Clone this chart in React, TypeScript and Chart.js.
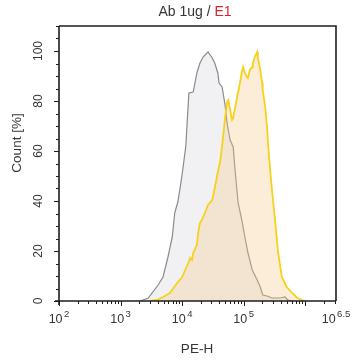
import React, { useEffect, useRef } from "react";
import { Chart, registerables } from "chart.js";

Chart.register(...registerables);

// Control (gray) histogram: x in log10(PE-H), y in Count [%]
const grayLog = [3.32,3.45,3.61,3.69,3.77,3.84,3.88,3.93,3.97,4.01,4.06,4.11,4.18,4.24,4.29,4.34,4.42,4.49,4.53,4.58,4.60,4.65,4.70,4.73,4.78,4.83,4.86,4.91,4.97,5.02,5.07,5.14,5.22,5.27,5.31,5.38,5.46,5.59,5.67,5.72,5.80];
const grayCount = [0,1.2,6.4,9.6,17.6,25.6,35.2,39.6,45.6,52.4,62,83.2,83.6,91.2,95.2,97.6,99.6,97.2,95.2,91.2,87.2,85.6,78,71.2,64.4,61.6,52.4,39.2,32.4,25.6,19.2,12.4,8.4,5.6,2.4,2,1.2,1.2,1.6,0.4,0];

// E1 (yellow) histogram
const e1Log = [3.48,3.59,3.69,3.80,3.92,4.00,4.05,4.10,4.13,4.16,4.18,4.24,4.26,4.29,4.32,4.37,4.42,4.49,4.53,4.58,4.62,4.66,4.70,4.73,4.75,4.78,4.81,4.83,4.89,4.94,4.97,4.99,5.02,5.05,5.07,5.10,5.14,5.15,5.18,5.22,5.23,5.27,5.30,5.31,5.35,5.38,5.40,5.43,5.46,5.51,5.56,5.62,5.70,5.79,5.87,5.95,6.00];
const e1Count = [0,0.4,1.6,3.2,7.2,9.6,12.4,15.2,17.2,16.4,19.2,22.4,27.2,31.2,32.4,35.2,38.4,40.4,45.2,51.6,56,64.4,73.6,79.6,80.4,76.4,72.4,73.2,81.2,87.2,91.6,93.6,91.2,89.6,89.2,92.4,93.6,95.2,97.6,99.6,97.2,92.4,87.2,84.4,77.6,69.6,61.6,52.4,44.4,32.4,19.2,9.6,5.6,3.2,1.2,0.4,0];

// Axis ticks
const xMajorTicks = [2, 3, 4, 5, 6];
const xLabelExps = ["2", "3", "4", "5", "6.5"];
const xLabelValues = [2, 3, 4, 5, 6.5];
const yMajorTicks = [0, 20, 40, 60, 80, 100];
const xMin = 2;
const xMax = 6.5;
const yMin = 0;
const yMax = 110;

const titleMain = "Ab 1ug / ";
const titleSample = "E1";
const xTitle = "PE-H";
const yTitle = "Count [%]";

const TEXT = "#363636";
const FONT = "'Liberation Sans', Arial, sans-serif";

const axesPlugin = {
  id: "flowAxes",
  afterDraw(chart: any) {
    const ctx = chart.ctx as CanvasRenderingContext2D;
    const { left, right, top, bottom } = chart.chartArea;
    const xs = chart.scales.x;
    const ys = chart.scales.y;
    ctx.save();
    // frame
    ctx.strokeStyle = "#1e1e1e";
    ctx.lineWidth = 1.6;
    ctx.beginPath();
    ctx.moveTo(left, top);
    ctx.lineTo(right, top);
    ctx.lineTo(right, bottom);
    ctx.stroke();
    ctx.beginPath();
    ctx.moveTo(left, top);
    ctx.lineTo(left, bottom + 4);
    ctx.moveTo(left - 4, bottom);
    ctx.lineTo(right, bottom);
    ctx.stroke();

    // x ticks
    ctx.lineWidth = 1;
    ctx.beginPath();
    for (const d of xMajorTicks) {
      const px = Math.round(xs.getPixelForValue(d)) + 0.5;
      ctx.moveTo(px, bottom);
      ctx.lineTo(px, bottom + 5);
      for (let k = 2; k <= 9; k++) {
        const v = d + Math.log10(k);
        if (v > xMax + 1e-9) break;
        const mx = Math.round(xs.getPixelForValue(v)) + 0.5;
        ctx.moveTo(mx, bottom);
        ctx.lineTo(mx, bottom + 3);
      }
    }
    ctx.stroke();

    // y ticks
    ctx.beginPath();
    for (let v = yMin; v <= yMax; v += 5) {
      const py = Math.round(ys.getPixelForValue(v)) + 0.5;
      const len = v % 20 === 0 ? 5 : 3;
      ctx.moveTo(left, py);
      ctx.lineTo(left - len, py);
    }
    ctx.stroke();

    // x tick labels 10^n
    ctx.fillStyle = TEXT;
    ctx.textBaseline = "alphabetic";
    ctx.textAlign = "left";
    xLabelValues.forEach((v, i) => {
      const px = xs.getPixelForValue(v);
      ctx.font = `12.5px ${FONT}`;
      const wBase = ctx.measureText("10").width;
      ctx.font = `9.5px ${FONT}`;
      const wExp = ctx.measureText(xLabelExps[i]).width;
      const total = wBase + 1.5 + wExp;
      let x0 = px - total / 2;
      if (x0 + total > 355) x0 = 355 - total;
      ctx.font = `12.5px ${FONT}`;
      ctx.fillText("10", x0, bottom + 22);
      ctx.font = `9.5px ${FONT}`;
      ctx.fillText(xLabelExps[i], x0 + wBase + 1.5, bottom + 16);
    });

    // y tick labels rotated
    ctx.font = `12px ${FONT}`;
    ctx.textAlign = "center";
    ctx.textBaseline = "middle";
    yMajorTicks.forEach((v) => {
      const py = ys.getPixelForValue(v);
      ctx.save();
      ctx.translate(left - 20.5, py);
      ctx.rotate(-Math.PI / 2);
      ctx.fillText(String(v), 0, 0);
      ctx.restore();
    });

    // axis titles
    ctx.font = `13.5px ${FONT}`;
    ctx.textAlign = "center";
    ctx.textBaseline = "middle";
    ctx.fillText(xTitle, 197, 349);
    ctx.save();
    ctx.translate(17, 143);
    ctx.rotate(-Math.PI / 2);
    ctx.fillText(yTitle, 0, 0);
    ctx.restore();

    // title two-colour
    ctx.font = `14px ${FONT}`;
    ctx.textAlign = "left";
    const w1 = ctx.measureText(titleMain).width;
    const w2 = ctx.measureText(titleSample).width;
    const tx = 195 - (w1 + w2) / 2;
    ctx.fillStyle = TEXT;
    ctx.fillText(titleMain, tx, 12);
    ctx.fillStyle = "#d7262e";
    ctx.fillText(titleSample, tx + w1, 12);
    ctx.restore();
  },
};

export default function App() {
  const ref = useRef<HTMLCanvasElement | null>(null);
  useEffect(() => {
    document.body.style.margin = "0";
    const canvas = ref.current;
    if (!canvas) return;
    const chart = new Chart(canvas, {
      type: "scatter",
      data: {
        datasets: [
          {
            label: "E1",
            data: e1Log.map((x, i) => ({ x, y: e1Count[i] })),
            showLine: true,
            borderColor: "#f6d21c",
            borderWidth: 1.8,
            backgroundColor: "rgba(247, 198, 135, 0.32)",
            fill: "origin",
            pointRadius: 0,
            tension: 0,
          },
          {
            label: "Control",
            data: grayLog.map((x, i) => ({ x, y: grayCount[i] })),
            showLine: true,
            borderColor: "#8a8a8a",
            borderWidth: 1.2,
            backgroundColor: "rgba(236, 236, 240, 0.75)",
            fill: "origin",
            pointRadius: 0,
            tension: 0,
          },
        ],
      },
      options: {
        responsive: false,
        maintainAspectRatio: false,
        animation: false,
        layout: { padding: { left: 59, top: 26, right: 20, bottom: 59 } },
        plugins: { legend: { display: false }, tooltip: { enabled: false }, title: { display: false } },
        scales: {
          x: { type: "linear", min: xMin, max: xMax, display: false },
          y: { type: "linear", min: yMin, max: yMax, display: false },
        },
      },
      plugins: [axesPlugin],
    });
    return () => chart.destroy();
  }, []);
  return (
    <div style={{ width: 356, height: 360, background: "#fff" }}>
      <canvas ref={ref} width={356} height={360} style={{ width: 356, height: 360 }} />
    </div>
  );
}
